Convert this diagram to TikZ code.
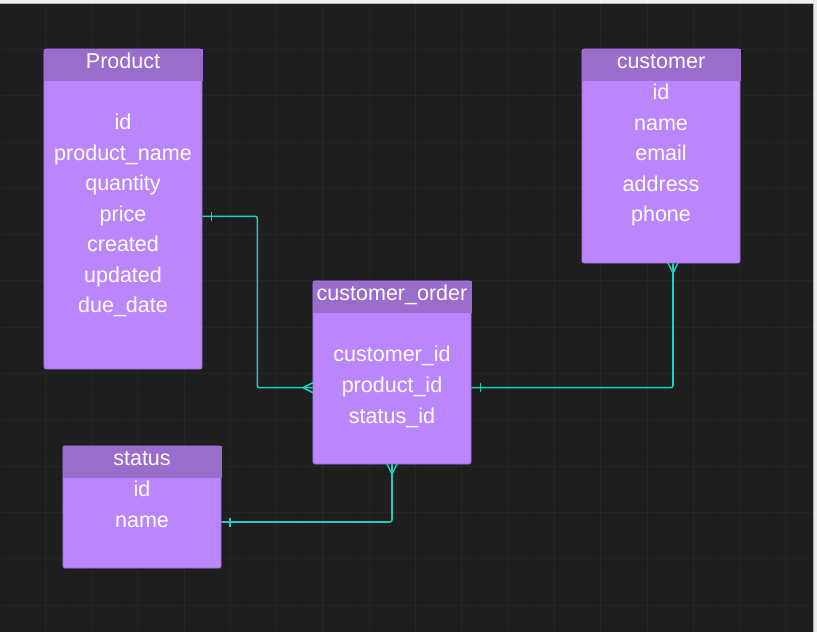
\documentclass[tikz,border=0pt]{standalone}
\usepackage{fontspec}
\setmainfont{Liberation Sans}

\definecolor{canvas}{HTML}{1E1E1E}
\definecolor{gridminor}{HTML}{212121}
\definecolor{gridmajor}{HTML}{262626}
\definecolor{headfill}{HTML}{9A6CCB}
\definecolor{bodyfill}{HTML}{BB86FC}
\definecolor{boxline}{HTML}{9C6BD8}
\definecolor{linkcol}{HTML}{1CCFC0}

\begin{document}
\begin{tikzpicture}[x=0.025cm, y=-0.025cm,
    entity/.style={draw=boxline, fill=bodyfill, line width=0.5pt, inner sep=0pt, minimum width=3.95cm, rounded corners=1.5pt},
    header/.style={draw=boxline, fill=headfill, line width=0.5pt, inner sep=0pt, minimum width=3.95cm, minimum height=0.775cm, anchor=north},
    field/.style={text=white, font=\fontsize{15.3}{18}\selectfont, anchor=base, inner sep=0pt},
    rel/.style={draw=linkcol, line width=1.1pt, rounded corners=1.5pt}]

        % Canvas and grid
        \useasboundingbox (0,0) rectangle (817,632);
        \fill[canvas] (0,0) rectangle (817,632);
        \foreach \i in {1,...,88} \draw[gridminor, line width=0.35pt] ({-1.3+9.26*\i},3) -- ({-1.3+9.26*\i},632);
        \foreach \i in {1,...,68} \draw[gridminor, line width=0.35pt] (0,{3+9.26*\i}) -- (813,{3+9.26*\i});
        \foreach \i in {1,...,17} \draw[gridmajor, line width=0.45pt] ({-1.3+46.3*\i},3) -- ({-1.3+46.3*\i},632);
        \foreach \i in {1,...,13} \draw[gridmajor, line width=0.45pt] (0,{3+46.3*\i}) -- (813,{3+46.3*\i});
        \fill[black!6] (0,0) rectangle (817,3);
        \fill[black!8] (813,0) rectangle (817,632);
        \draw[black!30, line width=0.5pt] (0,3) -- (813,3) -- (813,632);

        % Tables
        \node[entity, minimum height=8cm] (prod) at (123,209) {};
        \node[header] (prodhead) at (prod.north) {};
        \node[entity, minimum height=5.35cm] (cust) at (661,156) {};
        \node[header] (custhead) at (cust.north) {};
        \node[entity, minimum height=4.575cm] (ord) at (392,372.5) {};
        \node[header] (ordhead) at (ord.north) {};
        \node[entity, minimum height=3.05cm] (stat) at (142,507) {};
        \node[header] (stathead) at (stat.north) {};

        % Product fields
        \node[field] (prodtitle) at (123,68.3) {Product};
        \node[field] (prodid) at (123,129.5) {id};
        \node[field] (prodname) at (123,160) {product\_name};
        \node[field] (prodqty) at (123,190.5) {quantity};
        \node[field] (prodprice) at (123,221) {price};
        \node[field] (prodcreated) at (123,251.5) {created};
        \node[field] (produpdated) at (123,282) {updated};
        \node[field] (proddue) at (123,312.5) {due\_date};

        % customer fields
        \node[field] (custtitle) at (661,68.3) {customer};
        \node[field] (custid) at (661,99.3) {id};
        \node[field] (custname) at (661,130) {name};
        \node[field] (custemail) at (661,160.5) {email};
        \node[field] (custaddress) at (661,191) {address};
        \node[field] (custphone) at (661,221.5) {phone};

        % customer_order fields
        \node[field] (ordtitle) at (392,300) {customer\_order};
        \node[field] (ordcust) at (392,361.7) {customer\_id};
        \node[field] (ordprod) at (392,392.5) {product\_id};
        \node[field] (ordstat) at (392,423) {status\_id};

        % status fields
        \node[field] (stattitle) at (142,465.3) {status};
        \node[field] (statid) at (142,496.3) {id};
        \node[field] (statname) at (142,527) {name};

        % Relations
        \coordinate (e1) at (257.3,216.3);
        \coordinate (e2) at (257.3,387.7);
        \coordinate (e3) at (673,387.7);
        \coordinate (e4) at (392,522);
        \draw[rel] (prod.east |- e1) -- (e1) -- (e2) -- (ord.west |- e2);
        \draw[rel] (ord.east |- e3) -- (e3) -- (cust.south -| e3);
        \draw[rel] (stat.east |- e4) -- (e4) -- (ord.south -| e4);

        % One ticks
        \coordinate (t1) at (211.5,216.3);
        \coordinate (t2) at (480.5,387.7);
        \coordinate (t3) at (230,522);
        \draw[rel] (t1) ++(0,-4.5) -- ++(0,9);
        \draw[rel] (t2) ++(0,-4.5) -- ++(0,9);
        \draw[rel] (t3) ++(0,-4.5) -- ++(0,9);

        % Crow's feet
        \coordinate (c1) at (303,387.7);
        \coordinate (c2) at (673,273);
        \coordinate (c3) at (392,474);
        \draw[rel] (c1) -- ++(10,-5) (c1) -- ++(10,5);
        \draw[rel] (c2) -- ++(-5,-10) (c2) -- ++(5,-10);
        \draw[rel] (c3) -- ++(-5,-10) (c3) -- ++(5,-10);
\end{tikzpicture}
\end{document}
